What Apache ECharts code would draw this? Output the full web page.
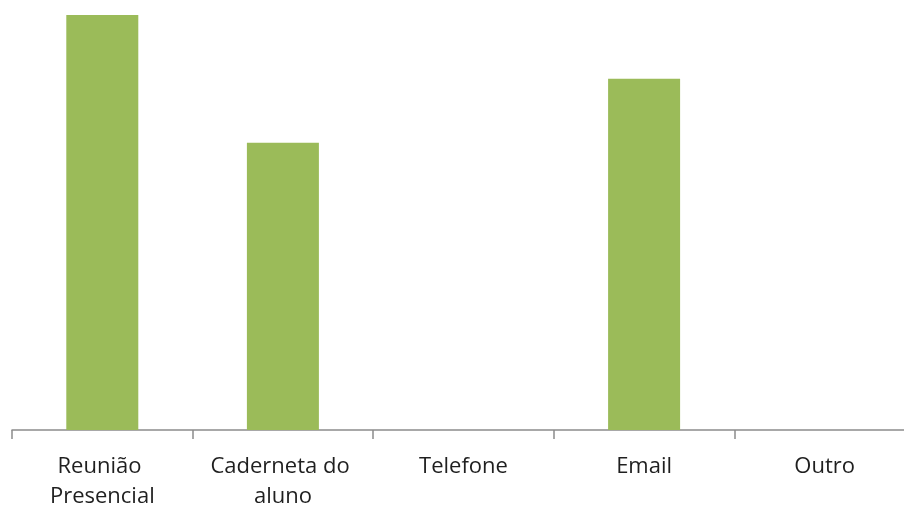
<!DOCTYPE html>
<html>
<head>
<meta charset="utf-8">
<script src="https://cdn.jsdelivr.net/npm/echarts@6/dist/echarts.min.js"></script>
<style>html,body{margin:0;padding:0;background:#fff;}#c{width:904px;height:506px;}</style>
</head>
<body>
<div id="c"></div>
<script>
const categories = ["Reunião Presencial", "Caderneta do aluno", "Telefone", "Email", "Outro"];
const values = [13, 9, 0, 11, 0];

const chart = echarts.init(document.getElementById('c'), null, {renderer: 'canvas'});
chart.setOption({
  animation: false,
  grid: {left: 12, top: 15, width: 903, height: 415, containLabel: false, outerBoundsMode: 'none'},
  xAxis: {
    type: 'category',
    data: categories,
    axisLine: {lineStyle: {color: '#8c8c8c', width: 1.5}},
    axisTick: {show: true, length: 9, alignWithLabel: false, lineStyle: {color: '#8c8c8c', width: 1.5}},
    axisLabel: {
      interval: 0,
      color: '#1f1f1f',
      fontFamily: 'Open Sans',
      fontSize: 22,
      lineHeight: 30,
      margin: 22,
      width: 160,
      overflow: 'break',
      hideOverlap: false
    }
  },
  yAxis: {type: 'value', min: 0, max: 13, show: false, splitLine: {show: false}},
  series: [{
    type: 'bar',
    data: values,
    barWidth: 72,
    itemStyle: {color: '#9bbb59'}
  }]
});
</script>
</body>
</html>
